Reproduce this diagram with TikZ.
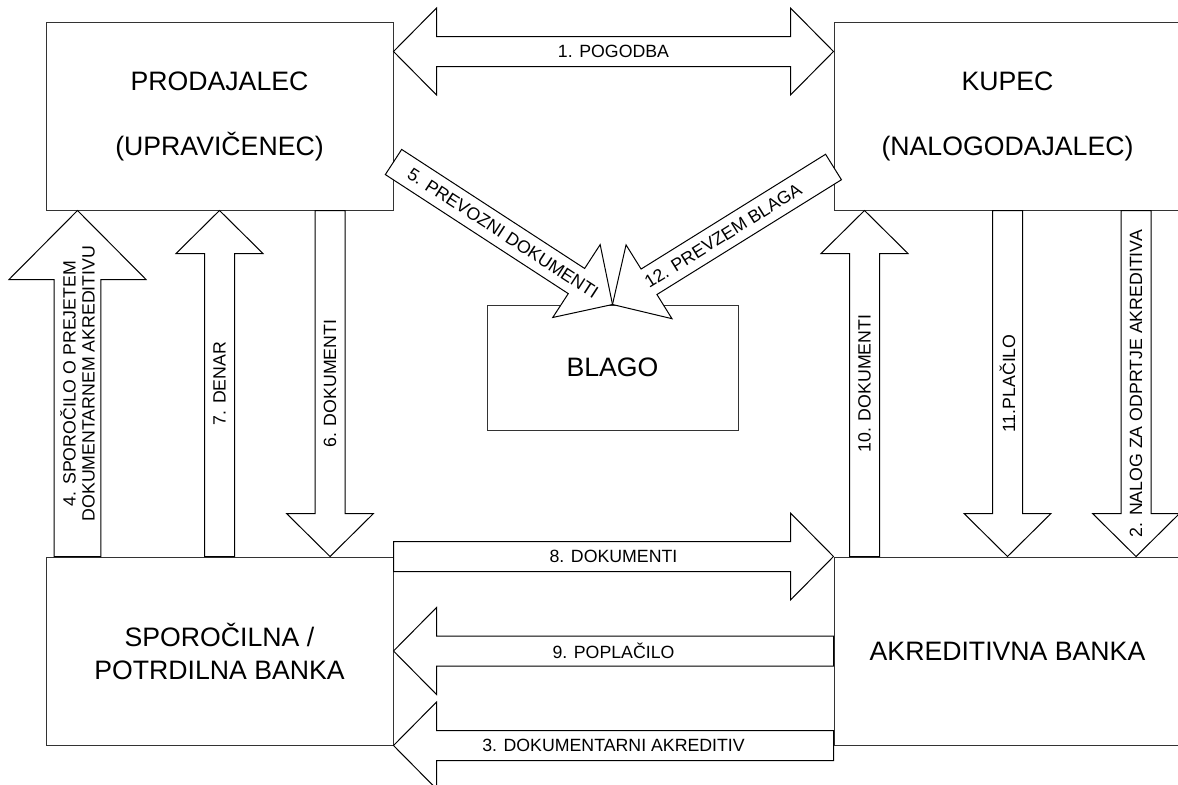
\documentclass[tikz,border=0pt]{standalone}
\usepackage{fontspec}
\setmainfont{Liberation Sans}
\usetikzlibrary{calc,positioning}

\tikzstyle{box} = [
    draw=black!80,
    line width=0.75pt,
    minimum width=260.25pt,
    minimum height=141pt,
    inner sep=0pt,
    align=center,
    font=\fontsize{20}{48.75}\selectfont
]
\tikzstyle{blockarrow} = [
    draw=black,
    fill=white,
    line width=0.75pt
]
\tikzstyle{arrowlabel} = [
    inner sep=0pt,
    align=center,
    font=\fontsize{13.3}{14.25}\selectfont
]
\tikzset{
    ba shaft/.store in=\bashaft, ba shaft=11.25pt,
    ba wing/.store in=\bawing, ba wing=32.6pt,
    ba head/.store in=\bahead, ba head=32.25pt,
    big arrow/.style={ba shaft=17.6pt, ba wing=51.4pt, ba head=51.75pt},
    flip label/.style={arrowlabel/.append style={rotate=180}}
}

\newcommand{\blockarrow}[4][]{%
  \begin{scope}[#1]
    \coordinate (ba-h) at ($(#3)!\bahead!(#2)$);
    \draw[blockarrow] ($(#2)!\bashaft!90:(#3)$) -- ($(ba-h)!\bashaft!90:(#3)$)
      -- ($(ba-h)!\bawing!90:(#3)$) -- (#3) -- ($(ba-h)!\bawing!-90:(#3)$)
      -- ($(ba-h)!\bashaft!-90:(#3)$) -- ($(#2)!\bashaft!-90:(#3)$) -- cycle;
    \path (#2) -- (#3) node[midway, sloped, arrowlabel] {#4};
  \end{scope}}

\newcommand{\dblockarrow}[4][]{%
  \begin{scope}[#1]
    \coordinate (ba-a) at ($(#2)!\bahead!(#3)$);
    \coordinate (ba-b) at ($(#3)!\bahead!(#2)$);
    \draw[blockarrow] (#2) -- ($(ba-a)!\bawing!90:(#3)$) -- ($(ba-a)!\bashaft!90:(#3)$)
      -- ($(ba-b)!\bashaft!90:(#3)$) -- ($(ba-b)!\bawing!90:(#3)$) -- (#3)
      -- ($(ba-b)!\bawing!-90:(#3)$) -- ($(ba-b)!\bashaft!-90:(#3)$)
      -- ($(ba-a)!\bashaft!-90:(#3)$) -- ($(ba-a)!\bawing!-90:(#3)$) -- cycle;
    \path (#2) -- (#3) node[midway, sloped, arrowlabel] {#4};
  \end{scope}}

\begin{document}
\begin{tikzpicture}[
  x=0.75pt, y=-0.75pt,
  node distance=259.5pt and 330pt
]
\useasboundingbox (0,0) rectangle (1178,785);

\node[box] (prod) at (219.5,116) {PRODAJALEC\\(UPRAVIČENEC)};
\node[box, right=of prod] (kupec) {KUPEC\\(NALOGODAJALEC)};
\node[box, below=of prod, font=\fontsize{20}{24.75}\selectfont] (sporo) {SPOROČILNA /\\POTRDILNA BANKA};
\node[box, below=of kupec] (akred) {AKREDITIVNA BANKA};
\node[box, minimum width=188.25pt, minimum height=93.75pt] (blago) at (612.5,367.5) {BLAGO};

\coordinate (pogodba-l) at ([yshift=-22.5pt]prod.north east);
\coordinate (pogodba-r) at ([yshift=-22.5pt]kupec.north west);
\coordinate (prevoz)    at ([yshift=-34.5pt]prod.east);
\coordinate (prevzem)   at ([yshift=-38.25pt]kupec.west);
\coordinate (x4)  at ([xshift=24pt]prod.south west);
\coordinate (x6)  at ([xshift=-47.6pt]prod.south east);
\coordinate (x10) at ([xshift=23.25pt]kupec.south west);
\coordinate (x2)  at ([xshift=-34.1pt]kupec.south east);

\dblockarrow{pogodba-l}{pogodba-r}{1. POGODBA}
\blockarrow[big arrow]{x4 |- sporo.north}{x4}{4. SPOROČILO O PREJETEM\\DOKUMENTARNEM AKREDITIVU}
\blockarrow{sporo.north}{prod.south}{7. DENAR}
\blockarrow[flip label]{x6}{x6 |- sporo.north}{6. DOKUMENTI}
\blockarrow{x10 |- akred.north}{x10}{10. DOKUMENTI}
\blockarrow[flip label]{kupec.south}{akred.north}{11.PLAČILO}
\blockarrow[flip label]{x2}{x2 |- akred.north}{2. NALOG ZA ODPRTJE AKREDITIVA}
\blockarrow{sporo.north east}{akred.north west}{8. DOKUMENTI}
\blockarrow{akred.west}{sporo.east}{9. POPLAČILO}
\blockarrow{akred.south west}{sporo.south east}{3. DOKUMENTARNI AKREDITIV}
\blockarrow{prevoz}{blago.north}{5. PREVOZNI DOKUMENTI}
\blockarrow{prevzem}{blago.north}{12. PREVZEM BLAGA}

\end{tikzpicture}
\end{document}
